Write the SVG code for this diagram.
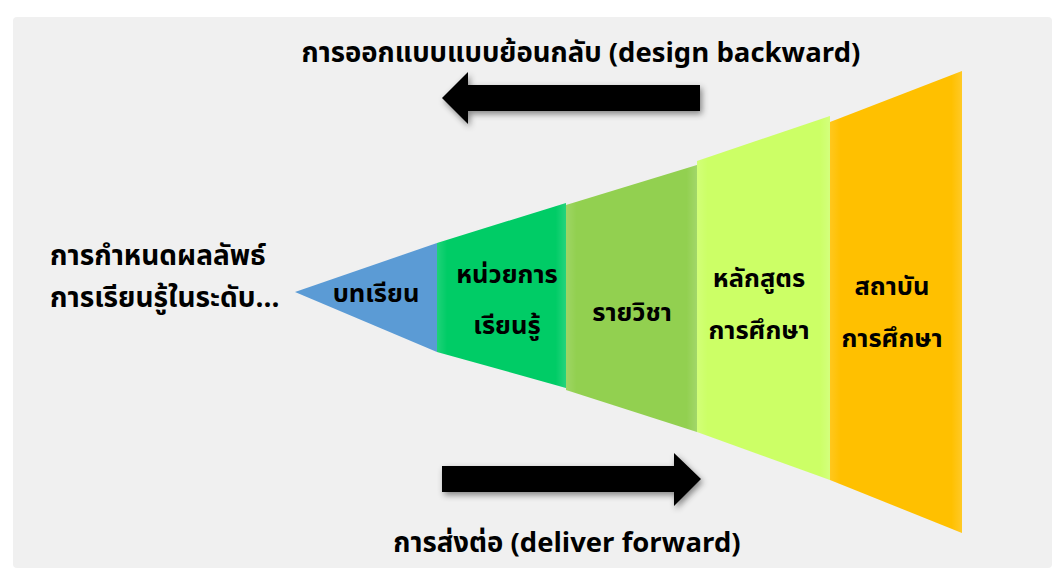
<svg xmlns="http://www.w3.org/2000/svg" width="1054" height="572" viewBox="0 0 1054 572">
<defs>
<style>
text{font-family:"Noto Sans Thai","Tahoma","Noto Sans","DejaVu Sans",sans-serif;font-weight:bold;fill:#000;}
.t{font-size:27.5px;}
.s{font-size:28px;}
.l{font-size:25.5px;text-anchor:middle;}
.seg{stroke:none;}
</style>
<filter id="sh" x="-10%" y="-30%" width="130%" height="180%">
<feDropShadow dx="2" dy="3" stdDeviation="3" flood-color="#000" flood-opacity="0.45"/>
</filter>
<linearGradient id="bev" x1="0" y1="0" x2="1" y2="0">
<stop offset="0" stop-color="#fff" stop-opacity="0.12"/>
<stop offset="0.08" stop-color="#fff" stop-opacity="0"/>
<stop offset="0.92" stop-color="#fff" stop-opacity="0"/>
<stop offset="1" stop-color="#fff" stop-opacity="0.15"/>
</linearGradient>
</defs>
<rect x="0" y="0" width="1054" height="572" fill="#ffffff"/>
<rect x="13" y="17" width="1039" height="551" rx="4" fill="#f0f0f0"/>

<g id="title-backward"><text class="t" x="581" y="62" text-anchor="middle">การออกแบบแบบย้อนกลับ (design backward)</text></g>
<g id="title-left">
<text class="s" x="50" y="265">การกำหนดผลลัพธ์</text>
<text class="s" x="50" y="307">การเรียนรู้ในระดับ...</text>
</g>

<g id="node-lesson">
<polygon class="seg" points="295,292 437,243 437,352" fill="#5b9bd5"/>
<text class="l" x="376" y="302">บทเรียน</text>
</g>
<g id="node-unit">
<polygon class="seg" points="437,243 566,203 566,388 437,352" fill="#00cc66"/>
<polygon points="437,243 566,203 566,388 437,352" fill="url(#bev)"/>
<text class="l" x="507" y="283">หน่วยการ</text>
<text class="l" x="507" y="334">เรียนรู้</text>
</g>
<g id="node-course">
<polygon class="seg" points="566,205 697,165 697,432 566,390" fill="#92d050"/>
<polygon points="566,205 697,165 697,432 566,390" fill="url(#bev)"/>
<text class="l" x="632" y="321">รายวิชา</text>
</g>
<g id="node-curriculum">
<polygon class="seg" points="697,161 830,116 830,480 697,432" fill="#ccff66"/>
<polygon points="697,161 830,116 830,480 697,432" fill="url(#bev)"/>
<text class="l" x="759" y="287">หลักสูตร</text>
<text class="l" x="759" y="339">การศึกษา</text>
</g>
<g id="node-institution">
<polygon class="seg" points="830,122 962,71 962,533 830,480" fill="#ffc000"/>
<polygon points="830,122 962,71 962,533 830,480" fill="url(#bev)"/>
<text class="l" x="892" y="295">สถาบัน</text>
<text class="l" x="892" y="347">การศึกษา</text>
</g>

<g id="connectors">
<polygon points="700,85 468,85 468,72 442,98 468,124 468,111 700,111" fill="#000" filter="url(#sh)"/>
<polygon points="442,466 674,466 674,453 701,479 674,506 674,492 442,492" fill="#000" filter="url(#sh)"/>
</g>

<g id="title-forward"><text class="t" x="567" y="552" text-anchor="middle">การส่งต่อ (deliver forward)</text></g>
</svg>
